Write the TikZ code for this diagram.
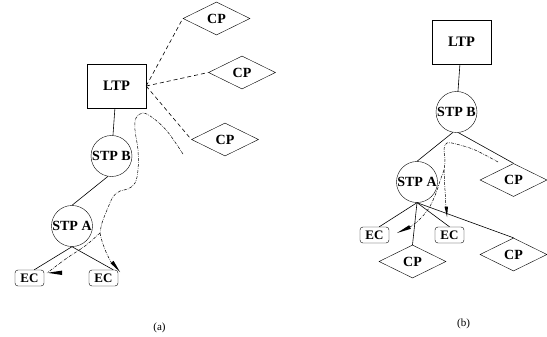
\documentclass[tikz,border=0pt]{standalone}
\usepackage{fontspec}
\setmainfont{Liberation Serif}
\usetikzlibrary{shapes.geometric}

\tikzset{
  lbl/.style={font=\fontsize{14}{14}\selectfont\bfseries},
  ltpbox/.style={draw, rectangle, minimum width=59pt, minimum height=44pt, inner sep=0pt, font=\fontsize{14.5}{14.5}\selectfont\bfseries},
  stpnode/.style={draw, circle, minimum size=41pt, inner sep=0pt, lbl},
  cpnode/.style={draw, diamond, minimum width=67pt, minimum height=33pt, inner sep=0pt, lbl},
  ecnode/.style={draw, rectangle, rounded corners=3pt, minimum width=29pt, minimum height=16pt, inner sep=0pt, font=\fontsize{13}{13}\selectfont\bfseries},
  link/.style={line width=0.6pt},
  cplink/.style={line width=0.6pt, dash pattern=on 4pt off 3pt},
  sigpath/.style={line width=0.5pt, dash pattern=on 3pt off 1.2pt on 0.6pt off 1.2pt},
  arrowhead/.style={fill=black},
  caption/.style={font=\fontsize{11}{11}\selectfont}
}

\begin{document}
\begin{tikzpicture}[x=1pt, y=-1pt]
\useasboundingbox (0,0) rectangle (547,337);

% ---------- panel (a) ----------
\node[ltpbox] (ltpA) at (116.5,86) {LTP};
\node[cpnode] (cpA1) at (216.5,18.5) {CP};
\node[cpnode] (cpA2) at (242,72.5) {CP};
\node[cpnode] (cpA3) at (225,139.5) {CP};
\node[stpnode] (stpBa) at (111.5,156) {STP B};
\node[stpnode] (stpAa) at (72,226) {STP A};
\node[ecnode] (ecA1) at (29.5,278) {EC};
\node[ecnode] (ecA2) at (103.5,278) {EC};

\draw[link] (ltpA) -- (stpBa);
\draw[link] (stpBa.260) -- (stpAa.90);
\draw[link] (stpAa.270) -- (ecA1.60);
\draw[link] (stpAa.270) -- (ecA2.40);
\draw[cplink] (ltpA.east) -- (cpA1.west);
\draw[cplink] (ltpA.east) -- (cpA2.west);
\draw[cplink] (ltpA.east) -- (cpA3.west);

% signalling route through the STPs
\coordinate (forkA) at (100,233);
\draw[sigpath] plot[smooth, tension=0.6] coordinates {
  (183,154) (167,131) (153,118) (143,113) (136,118) (135,130)
  (138,150) (138,170) (135,183) (128,189) (120,191) (113,197)
  (107,210) (102,223) (forkA)};
\draw[sigpath] plot[smooth, tension=0.6] coordinates {
  (forkA) (85,246) (67,258) (47,273)};
\draw[sigpath] plot[smooth, tension=0.6] coordinates {
  (forkA) (102,241) (106,252) (111,262)};
\fill[arrowhead] (47.5,272.8) -- (62,270.6) -- (62,275) -- cycle;
\fill[arrowhead] (120,272) -- (113.6,260.9) -- (110.4,263.1) -- cycle;

\node[caption] (capA) at (159.5,328) {(a)};

% ---------- panel (b) ----------
\node[ltpbox] (ltpB) at (461.5,42) {LTP};
\node[stpnode] (stpBb) at (456.5,112) {STP B};
\node[stpnode] (stpAb) at (417,182) {STP A};
\node[cpnode] (cpB1) at (513.5,180) {CP};
\node[ecnode] (ecB1) at (374.5,235) {EC};
\node[ecnode] (ecB2) at (449.5,235) {EC};
\node[cpnode] (cpB2) at (412.5,261.5) {CP};
\node[cpnode] (cpB3) at (513.5,254.5) {CP};

\draw[link] (ltpB) -- (stpBb);
\draw[link] (stpBb.260) -- (stpAb.90);
\draw[link] (stpBb.275) -- (cpB1.north);
\draw[link] (stpAb.270) -- (ecB1.60);
\draw[link] (stpAb.270) -- (cpB2.north);
\draw[link] (stpAb.270) -- (ecB2.north);
\draw[link] (stpAb.270) -- (cpB3.north);

\coordinate (forkB) at (444,170);
\draw[sigpath] plot[smooth, tension=0.6] coordinates {
  (498,162) (475,150) (456,144) (447,143) (444,149) (445,160) (forkB)};
\draw[sigpath] plot[smooth, tension=0.6] coordinates {
  (forkB) (440,181) (436,193) (429,208) (419,220) (410,227)};
\draw[sigpath] plot[smooth, tension=0.6] coordinates {
  (forkB) (445,190) (446,207)};
\fill[arrowhead] (397,233) -- (410.8,228.8) -- (409.2,225.2) -- cycle;
\fill[arrowhead] (447,217) -- (448,206.5) -- (444.5,206.5) -- cycle;

\node[caption] (capB) at (463.5,324) {(b)};
\end{tikzpicture}
\end{document}
